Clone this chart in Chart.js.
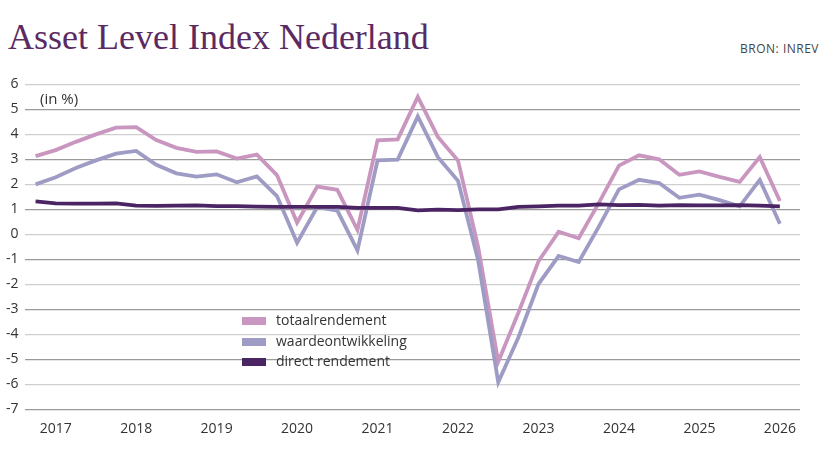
<!DOCTYPE html>
<html>
<head>
<meta charset="utf-8">
<script src="https://cdn.jsdelivr.net/npm/chart.js@4"></script>
<style>
  body { margin: 0; background: #fff; font-family: "Open Sans", sans-serif; }
  #wrap { position: relative; width: 833px; height: 469px; }
  #title { position: absolute; left: 8px; top: 16px; font-family: "Liberation Serif", serif; font-size: 36px; color: #5b2a62; }
  #source { position: absolute; right: 14px; top: 40px; font-size: 12px; color: #444; letter-spacing: 0.5px; }
  #unit { position: absolute; left: 40px; top: 88px; font-size: 15px; color: #333; }
  #chartBox { position: absolute; left: 0; top: 70px; width: 833px; height: 370px; }
  #legend { position: absolute; left: 242px; top: 310px; font-size: 14px; color: #333; line-height: 20.5px; }
  #legend span.sw { display: inline-block; width: 24px; height: 8px; margin-right: 10px; vertical-align: middle; }
</style>
</head>
<body>
<div id="wrap">
  <div id="title">Asset Level Index Nederland</div>
  <div id="source">BRON: INREV</div>
  <div id="chartBox"><canvas id="c"></canvas></div>
  <div id="unit">(in %)</div>
  <div id="legend">
    <div><span class="sw" style="background:#c996c0"></span>totaalrendement</div>
    <div><span class="sw" style="background:#9e9cc4"></span>waardeontwikkeling</div>
    <div><span class="sw" style="background:#4b2463"></span>direct rendement</div>
  </div>
</div>
<script>
// quarterly points, year label sits on the 2nd point of each group of four
const years = ['2017', '2018', '2019', '2020', '2021', '2022', '2023', '2024', '2025', '2026'];
const yTicks = [6, 5, 4, 3, 2, 1, 0, -1, -2, -3, -4, -5, -6, -7];

const totaalrendement = [3.13, 3.37, 3.7, 4.0, 4.27, 4.29, 3.77, 3.46, 3.3, 3.32, 3.03, 3.19, 2.37, 0.47, 1.91, 1.78, 0.18, 3.76, 3.8, 5.5,
  3.9, 2.95, -0.5, -5.1, -3.14, -1.08, 0.1, -0.16, 1.26, 2.75, 3.16, 3.0, 2.38, 2.52, 2.3, 2.1, 3.09, 1.33];
const waardeontwikkeling = [2.0, 2.28, 2.65, 2.96, 3.23, 3.34, 2.78, 2.44, 2.31, 2.4, 2.08, 2.32, 1.53, -0.34, 1.09, 0.95, -0.64, 2.96, 2.99, 4.72,
  3.09, 2.14, -1.04, -5.92, -4.13, -1.99, -0.87, -1.11, 0.31, 1.8, 2.18, 2.05, 1.46, 1.59, 1.37, 1.12, 2.18, 0.42];
const directRendement = [1.32, 1.24, 1.23, 1.23, 1.24, 1.15, 1.14, 1.15, 1.16, 1.13, 1.13, 1.11, 1.1, 1.1, 1.1, 1.1, 1.06, 1.06, 1.06, 0.96,
  0.99, 0.97, 1.0, 1.0, 1.1, 1.12, 1.15, 1.15, 1.2, 1.17, 1.18, 1.15, 1.17, 1.16, 1.16, 1.17, 1.15, 1.12];

const toXY = arr => arr.map((v, i) => ({ x: i, y: v }));

const line = (data, color) => ({
  data: toXY(data),
  borderColor: color,
  borderWidth: 3.8,
  pointRadius: 0,
  tension: 0,
  fill: false
});

new Chart(document.getElementById('c'), {
  type: 'line',
  data: {
    datasets: [
      line(directRendement, '#4b2463'),
      line(waardeontwikkeling, '#9e9cc4'),
      line(totaalrendement, '#c996c0')
    ]
  },
  options: {
    responsive: true,
    maintainAspectRatio: false,
    animation: false,
    layout: { padding: { left: 0, right: 33, top: 10, bottom: 0 } },
    plugins: { legend: { display: false }, tooltip: { enabled: false } },
    scales: {
      x: {
        type: 'linear',
        min: -0.55,
        max: 38.0,
        afterBuildTicks: axis => {
          axis.ticks = years.map((y, k) => ({ value: 1 + k * 4 }));
        },
        ticks: {
          autoSkip: false,
          maxRotation: 0,
          color: '#333',
          font: { family: 'Open Sans', size: 14 },
          callback: (v) => years[(v - 1) / 4]
        },
        grid: { display: false },
        border: { display: false }
      },
      y: {
        min: -7,
        max: 6,
        afterBuildTicks: axis => {
          axis.ticks = yTicks.map(v => ({ value: v }));
        },
        ticks: {
          color: '#333',
          padding: 6,
          font: { family: 'Open Sans', size: 14 }
        },
        grid: {
          color: ctx => (ctx.tick && Math.abs(ctx.tick.value) % 2 === 1) ? '#9a9a9a' : '#cfcfcf',
          lineWidth: 1.3,
          drawTicks: false
        },
        border: { display: false }
      }
    }
  }
});
</script>
</body>
</html>
